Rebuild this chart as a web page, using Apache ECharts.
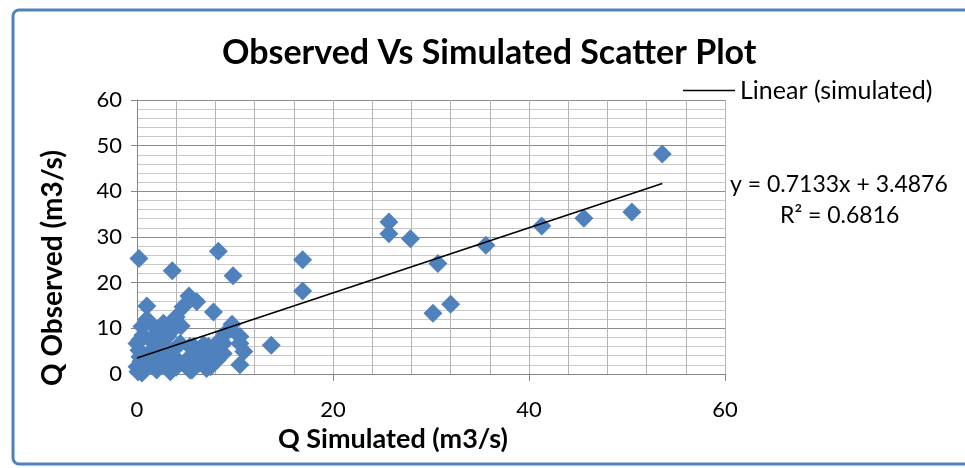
<!DOCTYPE html>
<html><head><meta charset="utf-8">
<script src="https://cdn.jsdelivr.net/npm/echarts@6/dist/echarts.min.js"></script>
<style>html,body{margin:0;padding:0;background:#fff}#c{width:965px;height:468px}</style>
</head><body><div id="c"></div>
<script>
var title = 'Observed Vs Simulated Scatter Plot';
var xName = 'Q Simulated (m3/s)';
var yName = 'Q Observed (m3/s)';
var legendName = 'Linear (simulated)';
var slope = 0.7133;
var intercept = 3.4876;
var rSquared = 0.6816;
var trendX = [0, 53.6];
var simulated = [53.6,50.5,45.6,41.3,35.6,30.7,32.0,30.2,27.9,25.7,25.7,16.9,16.9,13.7,8.3,9.8,3.6,0.2,1.0,5.3,6.1,4.7,7.8,9.7,10.5,10.9,10.5,10.5,3.7,2.7,0.5,1.9,3.6,8.8,9.0,8.0,6.3,7.5,5.4,5.6,0.0,1.4,3.1,4.4,5.8,6.8,5.4,4.1,2.7,1.4,0.3,0.0,0.5,2.0,3.4,5.4,7.1,8.2,8.8,0.2,0.6,1.0,1.8,2.4,2.2,3.0,3.5,4.0,4.8,6.2,7.0,6.5,7.3,0.8,1.2,0.4,2.5,1.0,0.1,0.3,9.5,8.5,4.5,4.0];
var observed  = [48.2,35.5,34.1,32.4,28.2,24.2,15.3,13.3,29.6,33.3,30.7,25.0,18.2,6.3,26.9,21.5,22.6,25.3,14.9,17.1,15.8,14.7,13.6,10.9,8.2,4.9,6.7,2.0,11.5,11.1,10.4,10.0,9.6,6.7,8.9,4.5,2.3,1.6,6.0,0.9,6.7,7.4,8.2,6.7,6.0,6.4,3.8,3.1,3.8,3.1,3.8,1.6,0.2,0.9,0.5,0.9,1.2,3.1,4.5,5.2,8.5,2.2,5.5,6.8,1.8,2.6,5.0,1.5,2.2,4.0,3.2,5.5,6.0,1.0,4.5,2.8,9.2,12.0,0.5,7.5,9.8,7.5,10.5,12.5];
var xTicks = [0, 20, 40, 60];
var yTicks = [0, 10, 20, 30, 40, 50, 60];

var pts = simulated.map(function(v, i){ return [v, observed[i]]; });
var trend = trendX.map(function(x){ return [x, slope * x + intercept]; });
var font = 'Lato, "Open Sans", sans-serif';

var chart = echarts.init(document.getElementById('c'));
chart.setOption({
  animation: false,
  backgroundColor: '#fff',
  textStyle: {fontFamily: font},
  title: {text: title, left: 217, top: 31, textStyle: {fontFamily: font, fontWeight: 'bold', fontSize: 34, color: '#000'}},
  legend: {data: [legendName], left: 678, top: 73, icon: 'rect', itemWidth: 52, itemHeight: 1.6, itemGap: 6,
    textStyle: {fontFamily: font, fontSize: 25, color: '#000'}},
  grid: {left: 137, right: 240, top: 100, bottom: 94, containLabel: false},
  xAxis: {type: 'value', min: xTicks[0], max: xTicks[xTicks.length-1], interval: 20,
    name: xName, nameLocation: 'middle', nameGap: 49,
    nameTextStyle: {fontFamily: font, fontWeight: 'bold', fontSize: 27, color: '#000', padding: [0, 76, 0, 0]},
    axisLine: {lineStyle: {color: '#868686', width: 1}},
    axisTick: {show: true, length: 7, lineStyle: {color: '#868686'}},
    axisLabel: {fontFamily: font, fontSize: 22, color: '#000', margin: 25},
    splitLine: {show: true, lineStyle: {color: '#b4b4b4', width: 1}},
    minorTick: {show: false, splitNumber: 5},
    minorSplitLine: {show: true, lineStyle: {color: '#b4b4b4', width: 1}}
  },
  yAxis: {type: 'value', min: yTicks[0], max: yTicks[yTicks.length-1], interval: 10,
    name: yName, nameLocation: 'middle', nameGap: 70, nameRotate: 90,
    nameTextStyle: {fontFamily: font, fontWeight: 'bold', fontSize: 28, color: '#000', padding: [0, 62, 0, 0]},
    axisLine: {show: true, lineStyle: {color: '#868686', width: 1}},
    axisTick: {show: true, length: 6, lineStyle: {color: '#868686'}},
    axisLabel: {fontFamily: font, fontSize: 22, color: '#000', margin: 15},
    splitLine: {show: true, lineStyle: {color: '#8c8c8c', width: 1}},
    minorTick: {show: false, splitNumber: 5},
    minorSplitLine: {show: true, lineStyle: {color: '#c8c8c8', width: 1}}
  },
  series: [
    {name: 'simulated', type: 'scatter', data: pts, symbol: 'diamond', symbolSize: 19,
      itemStyle: {color: '#4F81BD', opacity: 1}, z: 2},
    {name: legendName, type: 'line', data: trend, showSymbol: false, symbol: 'none',
      lineStyle: {color: '#000', width: 1.6}, itemStyle: {color: '#000'}, z: 3}
  ],
  graphic: [
    {type: 'rect', shape: {x: 13, y: 10, width: 1000, height: 454, r: 6}, style: {fill: 'none', stroke: '#4F81BD', lineWidth: 3}, silent: true},
    {type: 'text', left: 730, top: 173, style: {text: 'y = ' + slope + 'x + ' + intercept, fontFamily: font, fontSize: 23, fill: '#000'}},
    {type: 'text', left: 780, top: 204, style: {text: 'R\u00b2 = ' + rSquared, fontFamily: font, fontSize: 23, fill: '#000'}}
  ]
});
</script></body></html>
